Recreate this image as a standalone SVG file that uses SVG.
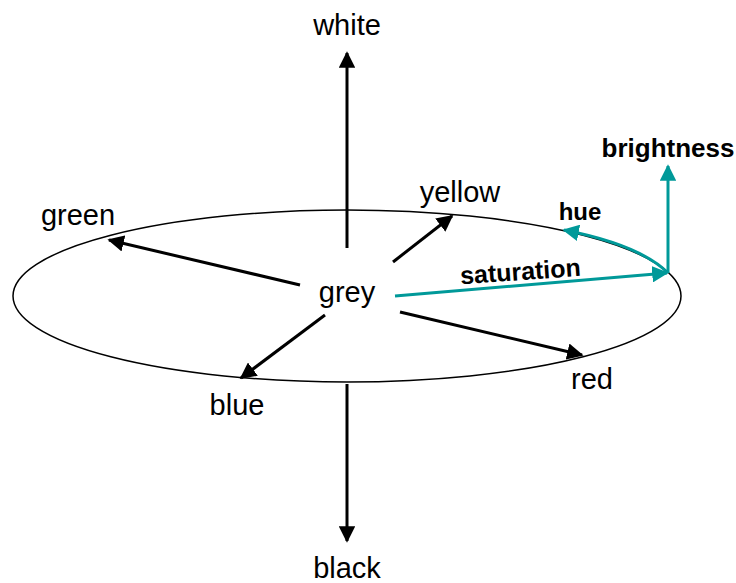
<svg xmlns="http://www.w3.org/2000/svg" width="736" height="583" viewBox="0 0 736 583">
<style>
.lbl{font-family:"Liberation Sans",Arial,sans-serif;font-size:29px;fill:#000;text-anchor:middle}
.b{font-family:"Liberation Sans",Arial,sans-serif;font-weight:bold;fill:#000;text-anchor:middle}
.ax{stroke:#000;stroke-width:3;fill:none}
.tl{stroke:#009999;stroke-width:3;fill:none}
</style>
<defs>
<marker id="ah" viewBox="0 0 10 10" refX="9" refY="5" markerWidth="5.5" markerHeight="5.5" orient="auto" markerUnits="strokeWidth"><path d="M0,0L10,5L0,10z" fill="#000"/></marker>
<marker id="at" viewBox="0 0 10 10" refX="9" refY="5" markerWidth="5.5" markerHeight="5.5" orient="auto" markerUnits="strokeWidth"><path d="M0,0L10,5L0,10z" fill="#009999"/></marker>
</defs>
<g id="disc"><ellipse cx="347" cy="296" rx="334" ry="86" fill="none" stroke="#000" stroke-width="1.5"/></g>
<g id="connectors">
<line class="ax" x1="347" y1="248" x2="347" y2="53" marker-end="url(#ah)"/>
<line class="ax" x1="347" y1="384" x2="347" y2="541" marker-end="url(#ah)"/>
<line class="ax" x1="300" y1="285" x2="109" y2="240" marker-end="url(#ah)"/>
<line class="ax" x1="393" y1="262" x2="452" y2="216" marker-end="url(#ah)"/>
<line class="ax" x1="325" y1="315" x2="241" y2="378" marker-end="url(#ah)"/>
<line class="ax" x1="400" y1="312" x2="582" y2="355" marker-end="url(#ah)"/>
<line class="tl" x1="395" y1="296" x2="667" y2="273" marker-end="url(#at)"/>
<line class="tl" x1="668" y1="273" x2="668" y2="166" marker-end="url(#at)"/>
<path class="tl" d="M668,273 Q640,245 564,230" marker-end="url(#at)"/>
</g>
<g id="grey"><text class="lbl" x="347" y="302">grey</text></g>
<g id="white"><text class="lbl" x="347" y="35">white</text></g>
<g id="black"><text class="lbl" x="347" y="578">black</text></g>
<g id="green"><text class="lbl" x="78" y="225">green</text></g>
<g id="yellow"><text class="lbl" x="460" y="202">yellow</text></g>
<g id="blue"><text class="lbl" x="237" y="415">blue</text></g>
<g id="red"><text class="lbl" x="592" y="389">red</text></g>
<g id="brightness"><text class="b" x="668" y="157" font-size="26">brightness</text></g>
<g id="hue"><text class="b" x="580" y="220" font-size="24">hue</text></g>
<g id="saturation"><text class="b" x="521" y="280" font-size="25" transform="rotate(-4 521 280)">saturation</text></g>
</svg>
